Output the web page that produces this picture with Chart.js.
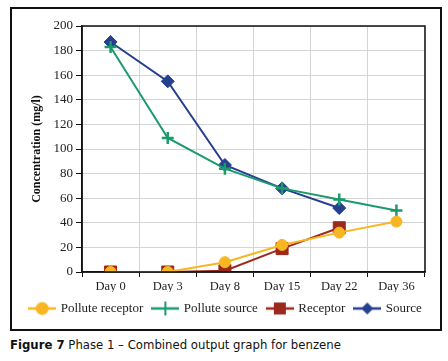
<!DOCTYPE html>
<html>
<head>
<meta charset="utf-8">
<script src="https://cdn.jsdelivr.net/npm/chart.js@4/dist/chart.umd.min.js"></script>
<style>
    body { margin: 0; background: #fff; width: 448px; height: 361px; position: relative; overflow: hidden; }
    #chartBox { position: absolute; left: 10px; top: 7px; width: 432px; height: 324px;
                border: 2px solid #111; box-sizing: border-box; }
    #caption { position: absolute; left: 10px; top: 337px; font-family: "Liberation Sans Narrow", "DejaVu Sans Condensed", sans-serif;
               font-size: 13px; color: #111; white-space: nowrap; }
</style>
</head>
<body>
<div id="chartBox"><canvas id="benzeneChart"></canvas></div>
<div id="caption"><b>Figure 7</b> Phase 1 – Combined output graph for benzene</div>

<script>
// Categories (sampling days)
const dayLabels = ["Day 0", "Day 3", "Day 8", "Day 15", "Day 22", "Day 36"];

// Series values (mg/l)
const polluteReceptor = [0, 0, 8, 22, 32, 41];
const polluteSource = [183, 109, 84, 68, 59, 50];
const receptor = [0, 0, 1, 19, 36, null];
const source = [187, 155, 87, 68, 52, null];

// Y axis ticks
const yTicks = [0, 20, 40, 60, 80, 100, 120, 140, 160, 180, 200];


// Small canvas image of line + marker for the legend
function LegendIcon(color, style) {
    const c = document.createElement("canvas");
    c.width = 28;
    c.height = 16;
    const g = c.getContext("2d");
    g.strokeStyle = color;
    g.fillStyle = color;
    g.lineWidth = 2.5;
    g.beginPath();
    g.moveTo(0, 8);
    g.lineTo(28, 8);
    g.stroke();
    if (style === "circle") {
        g.beginPath();
        g.arc(14, 8, 6.5, 0, Math.PI * 2);
        g.fill();
    } else if (style === "rect") {
        g.fillRect(8, 2, 12, 12);
    } else if (style === "rectRot") {
        g.beginPath();
        g.moveTo(14, 2);
        g.lineTo(20, 8);
        g.lineTo(14, 14);
        g.lineTo(8, 8);
        g.closePath();
        g.fill();
    } else if (style === "cross") {
        g.lineWidth = 2;
        g.beginPath();
        g.moveTo(14, 1);
        g.lineTo(14, 15);
        g.stroke();
    }
    return c;
}

// Black frame around the plot area
const plotFrame = {
    id: "plotFrame",
    afterDatasetsDraw(chart) {
        const a = chart.chartArea;
        const ctx = chart.ctx;
        ctx.save();
        ctx.strokeStyle = "#111";
        ctx.lineWidth = 1.5;
        ctx.strokeRect(a.left, a.top, a.right - a.left, a.bottom - a.top);
        ctx.restore();
    }
};

const seriesStyles = [
    { label: "Pollute receptor", data: polluteReceptor, color: "#f8b622", style: "circle", radius: 5.5 },
    { label: "Pollute source", data: polluteSource, color: "#1b9a6c", style: "cross", radius: 6 },
    { label: "Receptor", data: receptor, color: "#9c2a1c", style: "rect", radius: 8.5 },
    { label: "Source", data: source, color: "#263f8f", style: "rectRot", radius: 6.5 }
];

const ctx = document.getElementById("benzeneChart").getContext("2d");

const benzeneChart = new Chart(ctx, {
    type: "line",
    data: {
        labels: dayLabels,
        datasets: seriesStyles.map(s => ({
            label: s.label,
            data: s.data,
            borderColor: s.color,
            backgroundColor: s.color,
            pointStyle: s.style,
            pointRadius: s.radius,
            pointHoverRadius: s.radius,
            pointBorderWidth: s.style === "cross" ? 2.5 : 1,
            borderWidth: 2,
            tension: 0,
            fill: false,
            legendIcon: LegendIcon(s.color, s.style)
        }))
    },
    options: {
        responsive: true,
        maintainAspectRatio: false,
        animation: false,
        layout: {
            padding: { left: 0, top: 17, right: 0, bottom: 4 }
        },
        scales: {
            x: {
                offset: true,
                grid: { color: "#d4d4d4", lineWidth: 1, offset: true, tickLength: 5, tickColor: "#111" },
                border: { color: "#111", width: 1.5 },
                ticks: { color: "#222", padding: 2, font: { family: "Liberation Serif", size: 12.5 } },
                afterFit(scale) { scale.height = 20; }
            },
            y: {
                min: 0,
                max: 200,
                afterBuildTicks(scale) { scale.ticks = yTicks.map(v => ({ value: v })); },
                grid: { color: "#d4d4d4", lineWidth: 1, tickLength: 6, tickColor: "#111" },
                border: { color: "#111", width: 1.5 },
                ticks: { color: "#222", padding: 3, font: { family: "Liberation Serif", size: 13 } },
                title: {
                    display: true,
                    text: "Concentration (mg/l)",
                    color: "#111",
                    padding: { top: 18, bottom: 0 },
                    font: { family: "Liberation Serif", size: 12, weight: "bold" }
                },
                afterFit(scale) { scale.width = 70; }
            },
            // empty axis that only keeps a gap on the right of the plot
            yGap: {
                position: "right",
                display: true,
                grid: { display: false },
                border: { display: false },
                ticks: { display: false },
                afterFit(scale) { scale.width = 15; }
            }
        },
        plugins: {
            legend: {
                position: "bottom",
                labels: {
                    usePointStyle: true,
                    pointStyleWidth: 24,
                    padding: 10,
                    color: "#222",
                    font: { family: "Liberation Serif", size: 13 },
                    generateLabels(chart) {
                        return chart.data.datasets.map((ds, i) => ({
                            text: ds.label,
                            pointStyle: ds.legendIcon,
                            fillStyle: ds.borderColor,
                            strokeStyle: ds.borderColor,
                            lineWidth: 0,
                            fontColor: "#222",
                            hidden: false,
                            datasetIndex: i
                        }));
                    }
                }
            },
            tooltip: { enabled: false }
        }
    },
    plugins: [plotFrame]
});
</script>
</body>
</html>
